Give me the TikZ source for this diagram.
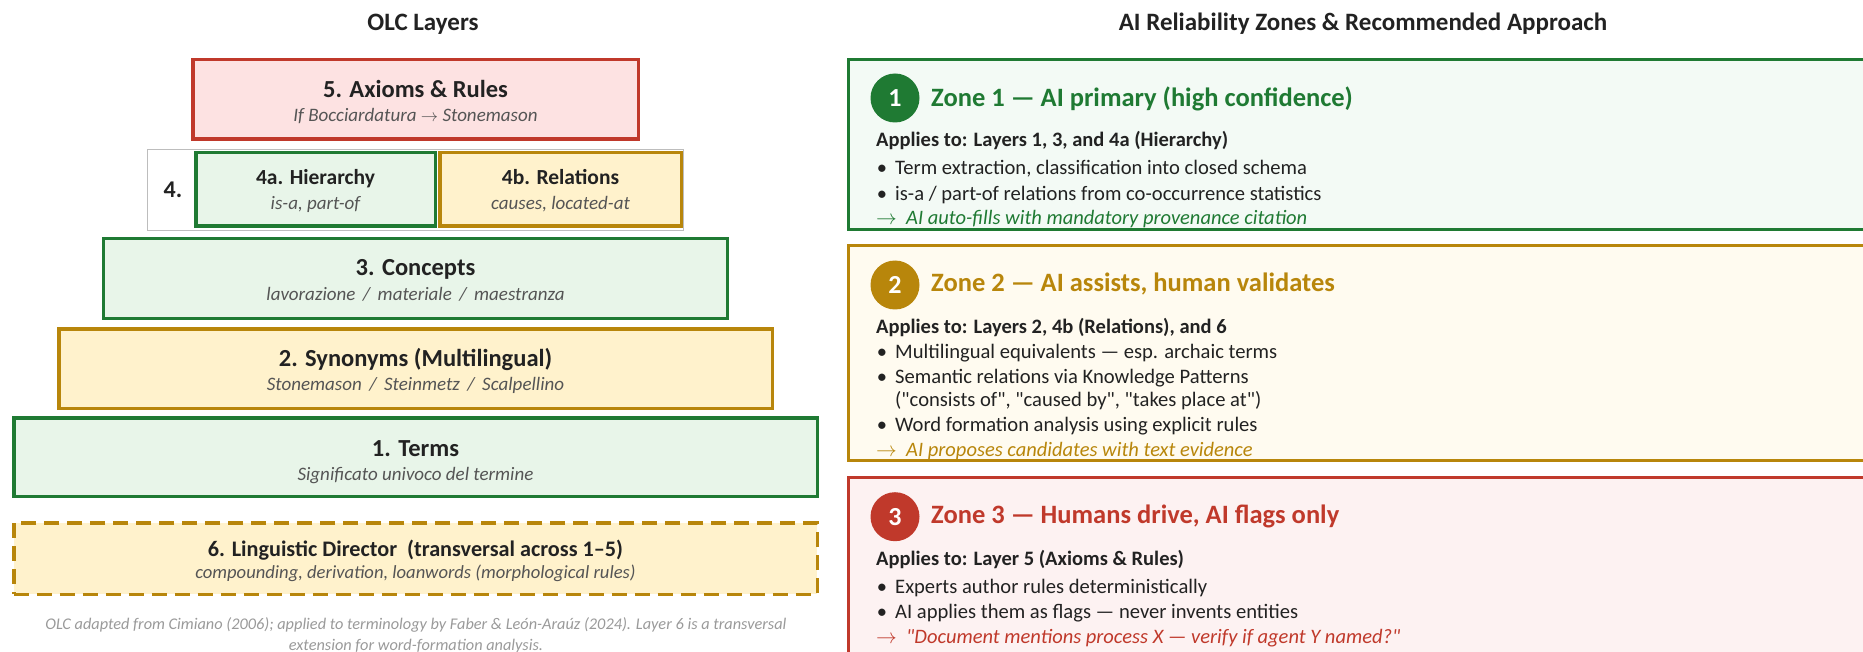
\documentclass[tikz,border=0pt]{standalone}
\usepackage{fontspec}
\setmainfont{Carlito}
\newfontfamily\qfont{Carlito}
\newcommand\qq{{\qfont\symbol{34}}}
\definecolor{cgreen}{HTML}{1F7A33}
\definecolor{cgold}{HTML}{B8860B}
\definecolor{cred}{HTML}{C0392B}
\definecolor{fgreen}{HTML}{E8F5E9}
\definecolor{fgold}{HTML}{FFF2CC}
\definecolor{fred}{HTML}{FDE2E2}
\definecolor{zgreen}{HTML}{F3FAF5}
\definecolor{zgold}{HTML}{FFFBF0}
\definecolor{zred}{HTML}{FDF2F2}
\definecolor{ctext}{HTML}{222222}
\definecolor{csub}{HTML}{555555}
\definecolor{cnote}{HTML}{9A9A9A}
\definecolor{cgray}{HTML}{BDBDBD}
\begin{document}
\begin{tikzpicture}[x=1pt,y=-1pt,
  lbox/.style={rectangle, line width=3.5pt, inner sep=0pt, outer sep=0pt},
  zbox/.style={rectangle, line width=3pt, inner sep=0pt, outer sep=0pt, anchor=north west, minimum width=1200pt},
  hdr/.style={anchor=base, inner sep=0pt, text=ctext, font=\fontsize{25}{30}\selectfont\bfseries},
  ltitle/.style={anchor=base, inner sep=0pt, text=ctext, font=\fontsize{24.5}{28}\selectfont\bfseries},
  stitle/.style={anchor=base, inner sep=0pt, text=ctext, font=\fontsize{21.5}{26}\selectfont\bfseries},
  lsub/.style={anchor=base, inner sep=0pt, text=csub, font=\fontsize{19}{23}\selectfont\itshape},
  note/.style={anchor=base, inner sep=0pt, text=cnote, font=\fontsize{16.3}{20}\selectfont\itshape},
  znum/.style={circle, inner sep=0pt, minimum size=49pt, text=white, font=\fontsize{26}{30}\selectfont\bfseries},
  ztitle/.style={anchor=base west, inner sep=0pt, font=\fontsize{26.5}{30}\selectfont\bfseries},
  zapp/.style={anchor=base west, inner sep=0pt, text=ctext, font=\fontsize{20.5}{24}\selectfont\bfseries},
  zbul/.style={anchor=base west, inner sep=0pt, text=ctext, font=\fontsize{20.6}{24}\selectfont},
  zdot/.style={anchor=base, inner sep=0pt, text=ctext, font=\fontsize{20.5}{24}\selectfont},
  zarr/.style={anchor=base west, inner sep=0pt, font=\fontsize{20.5}{24}\selectfont\itshape},
]
\useasboundingbox (0,0) rectangle (1863,652);
\clip (0,0) rectangle (1863,652);
\fill[white] (0,0) rectangle (1863,652);

% ---------- headers ----------
\node[hdr] (hleft) at (423,30.7) {OLC Layers};
\node[hdr] (hright) at (1363,31) {AI Reliability Zones \& Recommended Approach};

% ---------- left pyramid ----------
\node[lbox, draw=cred, fill=fred, minimum width=445.5pt, minimum height=79.5pt] (l5) at (415.5,99.5) {};
\node[ltitle] (l5t) at (415.5,97.5) {5. Axioms \& Rules};
\node[lsub] (l5s) at (415.5,121.7) {If Bocciardatura $\rightarrow$ Stonemason};

\node[rectangle, draw=cgray, fill=white, line width=1.2pt, inner sep=0pt, minimum width=536pt, minimum height=80.8pt] (l4) at (415.7,190) {};
\node[lbox, draw=cgreen, fill=fgreen, minimum width=239.5pt, minimum height=73.5pt] (l4a) at (315.5,189.5) {};
\node[lbox, draw=cgold, fill=fgold, minimum width=241.5pt, minimum height=73.5pt] (l4b) at (560.5,189.5) {};
\node[anchor=base, inner sep=0pt, text=ctext, font=\fontsize{24}{28}\selectfont\bfseries] (l4n) at (173,198) {4.};
\node[stitle] (l4at) at (315.5,185) {4a. Hierarchy};
\node[lsub] (l4as) at (315.5,210) {is-a, part-of};
\node[stitle] (l4bt) at (560.5,185) {4b. Relations};
\node[lsub] (l4bs) at (560.5,210) {causes, located-at};

\node[lbox, draw=cgreen, fill=fgreen, minimum width=624pt, minimum height=79.5pt] (l3) at (415.5,278.5) {};
\node[ltitle] (l3t) at (415.5,276) {3. Concepts};
\node[lsub] (l3s) at (415.5,300.7) {lavorazione \,/\, materiale \,/\, maestranza};

\node[lbox, draw=cgold, fill=fgold, minimum width=713.5pt, minimum height=79.5pt] (l2) at (415.5,368.5) {};
\node[ltitle] (l2t) at (415.5,366.7) {2. Synonyms (Multilingual)};
\node[lsub] (l2s) at (415.5,390.7) {Stonemason \,/\, Steinmetz \,/\, Scalpellino};

\node[lbox, draw=cgreen, fill=fgreen, minimum width=803.5pt, minimum height=78.5pt] (l1) at (415.5,457) {};
\node[ltitle] (l1t) at (415.5,456) {1. Terms};
\node[lsub] (l1s) at (415.5,480) {Significato univoco del termine};

\node[lbox, draw=cgold, fill=fgold, dash pattern=on 15pt off 8pt, minimum width=803.5pt, minimum height=71.5pt] (l6) at (415.5,558.5) {};
\node[stitle, font=\fontsize{22.2}{26}\selectfont\bfseries] (l6t) at (415.5,556) {6. Linguistic Director~~(transversal across 1–5)};
\node[lsub, font=\fontsize{18.6}{22}\selectfont\itshape] (l6s) at (415.5,578) {compounding, derivation, loanwords (morphological rules)};

\node[note] (n1) at (416,629) {OLC adapted from Cimiano (2006); applied to terminology by Faber \& León-Araúz (2024). Layer 6 is a transversal};
\node[note] (n2) at (416,650) {extension for word-formation analysis.};

% ---------- zone 1 ----------
\node[zbox, draw=cgreen, fill=zgreen, minimum height=170.5pt] (z1) at (848.5,59.5) {};
\node[znum, fill=cgreen] (c1) at (895,98) {1};
\node[ztitle, text=cgreen] (z1t) at (931,106.7) {Zone 1 — AI primary (high confidence)};
\node[zapp] (z1a) at (876,146.7) {Applies to: Layers 1, 3, and 4a (Hierarchy)};
\node[zdot] (z1d1) at (882,175) {•};
\node[zbul] (z1b1) at (895,175) {Term extraction, classification into closed schema};
\node[zdot] (z1d2) at (882,200.7) {•};
\node[zbul] (z1b2) at (895,200.7) {is-a / part-of relations from co-occurrence statistics};
\node[zarr, text=cgreen] (z1r) at (876,225) {$\rightarrow$\ \ AI auto-fills with mandatory provenance citation};

% ---------- zone 2 ----------
\node[zbox, draw=cgold, fill=zgold, minimum height=214.5pt] (z2) at (848.5,245.5) {};
\node[znum, fill=cgold] (c2) at (895,285) {2};
\node[ztitle, text=cgold] (z2t) at (931,292) {Zone 2 — AI assists, human validates};
\node[zapp] (z2a) at (876,333.3) {Applies to: Layers 2, 4b (Relations), and 6};
\node[zdot] (z2d1) at (882,358.3) {•};
\node[zbul] (z2b1) at (895,358.3) {Multilingual equivalents — esp. archaic terms};
\node[zdot] (z2d2) at (882,383.3) {•};
\node[zbul] (z2b2) at (895,383.3) {Semantic relations via Knowledge Patterns};
\node[zbul] (z2b2c) at (895,406.7) {(\qq consists of\qq, \qq caused by\qq, \qq takes place at\qq)};
\node[zdot] (z2d3) at (882,431.7) {•};
\node[zbul] (z2b3) at (895,431.7) {Word formation analysis using explicit rules};
\node[zarr, text=cgold] (z2r) at (876,456.7) {$\rightarrow$\ \ AI proposes candidates with text evidence};

% ---------- zone 3 ----------
\node[zbox, draw=cred, fill=zred, minimum height=400pt] (z3) at (848.5,477.5) {};
\node[znum, fill=cred] (c3) at (895,516.7) {3};
\node[ztitle, text=cred] (z3t) at (931,523) {Zone 3 — Humans drive, AI flags only};
\node[zapp] (z3a) at (876,565) {Applies to: Layer 5 (Axioms \& Rules)};
\node[zdot] (z3d1) at (882,593) {•};
\node[zbul] (z3b1) at (895,593) {Experts author rules deterministically};
\node[zdot] (z3d2) at (882,618) {•};
\node[zbul] (z3b2) at (895,618) {AI applies them as flags — never invents entities};
\node[zarr, text=cred] (z3r) at (876,643) {$\rightarrow$\ \ \qq Document mentions process X — verify if agent Y named?\qq};
\end{tikzpicture}
\end{document}
